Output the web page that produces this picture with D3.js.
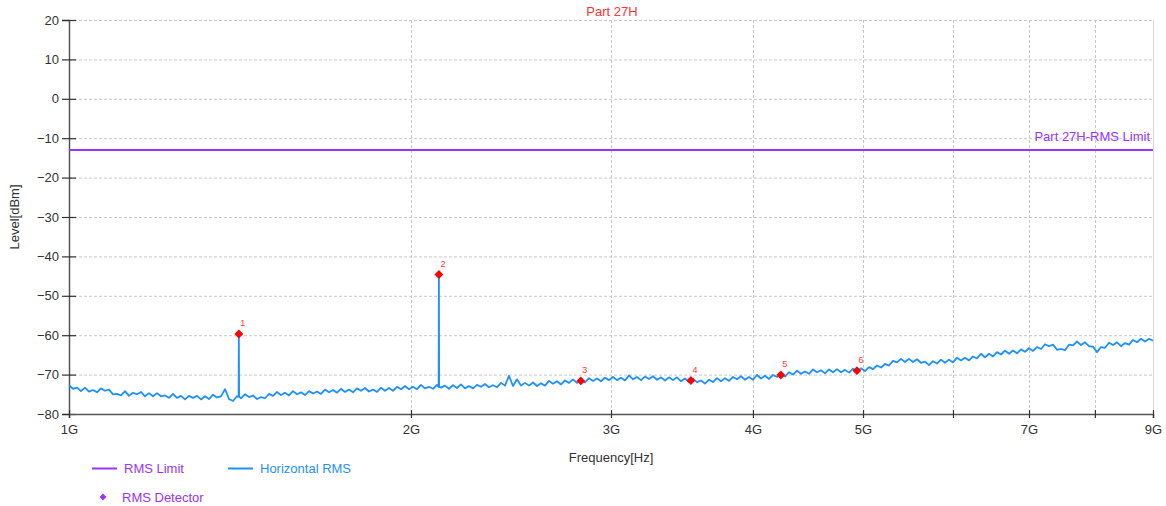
<!DOCTYPE html>
<html>
<head>
<meta charset="utf-8">
<script src="https://cdn.jsdelivr.net/npm/d3@7"></script>
<style>
  html, body { margin: 0; padding: 0; background: #fff; }
  svg text { font-family: Arial, "Liberation Sans", sans-serif; }
</style>
</head>
<body>
<svg id="chart" width="1166" height="506"></svg>
<script>
// ---------------- data ----------------
const chartTitle = "Part 27H";
const limitLabel = "Part 27H-RMS Limit";
const limitLevel = -13;                       // dBm
const yTickValues = [-80, -70, -60, -50, -40, -30, -20, -10, 0, 10, 20];
const xTickValuesGHz = [1, 2, 3, 4, 5, 6, 7, 8, 9];
const xTickLabels = ["1G", "2G", "3G", "4G", "5G", "", "7G", "", "9G"];

// sweep (log-spaced sweep points between start and stop)
const sweepStartGHz = 1;
const sweepStopGHz = 9;
const traceLevels = [
  -72.7,-73.6,-73.3,-74.2,-73.3,-74.3,-73.9,-74.5,-73.5,-74.1,
  -73.8,-75.0,-74.9,-75.3,-74.2,-75.4,-74.6,-75.0,-74.4,-75.5,
  -74.7,-75.5,-74.7,-75.5,-75.3,-75.9,-74.9,-75.9,-75.4,-76.3,
  -75.4,-75.9,-75.4,-76.3,-75.5,-76.2,-75.1,-75.8,-75.5,-73.7,
  -76.2,-76.7,-75.5,-76.0,-75.0,-75.7,-75.3,-76.2,-75.7,-76.0,
  -74.9,-75.4,-74.4,-75.2,-74.6,-75.3,-74.2,-75.0,-74.5,-75.2,
  -74.2,-74.8,-74.3,-74.9,-73.8,-74.5,-73.9,-74.6,-73.6,-74.4,
  -73.8,-74.5,-73.5,-74.1,-73.4,-74.3,-73.8,-74.4,-73.3,-74.1,
  -73.4,-74.1,-73.1,-73.7,-72.9,-73.7,-73.1,-73.7,-72.6,-73.5,
  -73.1,-73.6,-72.6,-73.3,-72.8,-73.6,-72.7,-73.4,-72.5,-73.5,
  -72.9,-73.5,-72.6,-73.1,-72.4,-73.2,-72.7,-73.2,-72.1,-72.8,
  -70.3,-72.9,-71.2,-72.8,-72.1,-72.8,-72.0,-72.9,-72.2,-72.8,
  -71.6,-72.3,-71.7,-72.5,-71.5,-72.1,-71.2,-72.1,-71.4,-72.0,
  -70.9,-71.6,-71.0,-71.7,-70.8,-71.4,-70.6,-71.4,-70.8,-71.5,
  -70.2,-71.2,-70.6,-71.4,-70.5,-71.1,-70.4,-71.3,-70.7,-71.5,
  -70.7,-71.4,-70.7,-71.7,-71.0,-71.9,-71.1,-71.9,-71.5,-72.3,
  -71.3,-71.9,-70.9,-71.7,-70.9,-71.6,-70.6,-71.2,-70.4,-71.3,
  -70.6,-71.3,-70.1,-71.0,-70.3,-71.1,-70.1,-70.6,-69.9,-70.5,
  -69.4,-70.0,-69.0,-69.8,-69.2,-69.8,-68.7,-69.4,-68.9,-69.7,
  -68.7,-69.4,-68.6,-69.4,-68.8,-69.5,-68.5,-69.2,-68.4,-69.1,
  -68.1,-68.6,-67.7,-68.2,-67.3,-67.7,-66.5,-66.9,-66.0,-66.8,
  -66.0,-66.8,-66.1,-67.0,-66.7,-67.6,-66.6,-67.2,-66.2,-67.0,
  -66.2,-66.9,-65.7,-66.4,-65.7,-66.4,-65.4,-65.9,-64.7,-65.6,
  -64.7,-65.4,-64.3,-64.9,-63.9,-64.7,-63.9,-64.6,-63.6,-64.2,
  -63.3,-64.0,-63.0,-63.5,-62.3,-62.8,-62.4,-63.7,-63.5,-63.8,
  -62.4,-62.6,-61.6,-62.5,-61.8,-62.8,-62.9,-64.3,-63.0,-63.2,
  -61.9,-62.5,-61.8,-62.8,-62.0,-62.4,-61.2,-61.8,-60.9,-61.6,
  -60.9,-61.4
];

// narrow emission spikes in the trace
const spikeFreqsGHz = [1.4110, 2.1165];
const spikePeakLevels = [-59.7, -44.6];
const spikeBaseLevels = [-75.6, -73.1];

// RMS detector markers
const markerIds = ["1", "2", "3", "4", "5", "6"];
const markerFreqsGHz = [1.4110, 2.1165, 2.8220, 3.5275, 4.2330, 4.9385];
const markerLevels = [-59.7, -44.6, -71.6, -71.5, -70.1, -69.0];

const legendLabels = ["RMS Limit", "Horizontal RMS", "RMS Detector"];

// ---------------- styles ----------------
const colLimit = "#9933ff";
const colTrace = "#1e90ff";
const colMarker = "#ff0000";
const colTitle = "#ff3333";
const colAxis = "#555555";
const colGrid = "#c8c8c8";
const colText = "#333333";

// ---------------- chart ----------------
const svg = d3.select("#chart");
const pLeft = 69, pRight = 1153, pTop = 20, pBottom = 414;
const G = 1e9;

const x = d3.scaleLog().domain([sweepStartGHz * G, sweepStopGHz * G]).range([pLeft, pRight]);
const y = d3.scaleLinear().domain([-80, 20]).range([pBottom, pTop]);

// grid
const grid = svg.append("g");
grid.selectAll("line.h").data(yTickValues.filter(v => v > -80)).join("line")
  .attr("x1", pLeft).attr("x2", pRight)
  .attr("y1", d => y(d) + 0.5).attr("y2", d => y(d) + 0.5)
  .attr("stroke", colGrid).attr("stroke-width", 1).attr("stroke-dasharray", "3,2");
grid.selectAll("line.v").data(xTickValuesGHz.filter(v => v > 1 && v < 9)).join("line")
  .attr("x1", d => Math.round(x(d * G)) + 0.5).attr("x2", d => Math.round(x(d * G)) + 0.5)
  .attr("y1", pTop).attr("y2", pBottom)
  .attr("stroke", colGrid).attr("stroke-width", 1).attr("stroke-dasharray", "3,2");
grid.append("line")
  .attr("x1", pRight + 0.5).attr("x2", pRight + 0.5).attr("y1", pTop).attr("y2", pBottom)
  .attr("stroke", "#d8d8d8").attr("stroke-width", 1);

// axes
const yAxis = d3.axisLeft(y).tickValues(yTickValues).tickSize(7).tickPadding(3)
  .tickFormat(d3.format("d"));
const gy = svg.append("g").attr("transform", `translate(${pLeft},0)`).call(yAxis);
gy.select(".domain").attr("stroke", colAxis).attr("stroke-width", 1.5);
gy.selectAll(".tick line").attr("stroke", "#333").attr("x2", -7).attr("x1", 7).attr("stroke-width", 1.2);
gy.selectAll(".tick text").attr("fill", colText).attr("font-size", 13)
  .attr("font-family", "Arial, 'Liberation Sans', sans-serif");

const xAxis = d3.axisBottom(x).tickValues(xTickValuesGHz.map(v => v * G)).tickSize(4).tickPadding(7)
  .tickFormat((d, i) => xTickLabels[i]);
const gx = svg.append("g").attr("transform", `translate(0,${pBottom})`).call(xAxis);
gx.select(".domain").attr("stroke", colAxis).attr("stroke-width", 1.5);
gx.selectAll(".tick line").attr("stroke", "#333").attr("y1", -4).attr("y2", 4).attr("stroke-width", 1.2);
gx.selectAll(".tick text").attr("fill", colText).attr("font-size", 13)
  .attr("font-family", "Arial, 'Liberation Sans', sans-serif");

// axis titles
svg.append("text").attr("x", (pLeft + pRight) / 2).attr("y", 462)
  .attr("text-anchor", "middle").attr("font-size", 13).attr("fill", colText).text("Frequency[Hz]");
svg.append("text").attr("transform", `translate(19,${(pTop + pBottom) / 2}) rotate(-90)`)
  .attr("text-anchor", "middle").attr("font-size", 13).attr("fill", colText).text("Level[dBm]");

// title
svg.append("text").attr("x", 612).attr("y", 16).attr("text-anchor", "middle")
  .attr("font-size", 13).attr("fill", colTitle).text(chartTitle);

// limit line
svg.append("line").attr("x1", pLeft).attr("x2", pRight)
  .attr("y1", y(limitLevel)).attr("y2", y(limitLevel))
  .attr("stroke", colLimit).attr("stroke-width", 2);
svg.append("text").attr("x", pRight - 3).attr("y", y(limitLevel) - 9).attr("text-anchor", "end")
  .attr("font-size", 13).attr("fill", colLimit).text(limitLabel);

// trace
const n = traceLevels.length;
let tracePts = traceLevels.map((v, i) => [
  sweepStartGHz * Math.pow(sweepStopGHz / sweepStartGHz, i / (n - 1)) * G, v]);
spikeFreqsGHz.forEach((f, k) => {
  tracePts.push([f * G * 0.9995, spikeBaseLevels[k]]);
  tracePts.push([f * G, spikePeakLevels[k]]);
  tracePts.push([f * G * 1.0005, spikeBaseLevels[k]]);
});
tracePts.sort((a, b) => a[0] - b[0]);

const line = d3.line().x(d => x(d[0])).y(d => y(d[1]));
svg.append("path").datum(tracePts).attr("d", line)
  .attr("fill", "none").attr("stroke", colTrace).attr("stroke-width", 1.8)
  .attr("stroke-linejoin", "round");

// markers
const diamond = d3.symbol().type(d3.symbolDiamond2).size(50);
const markers = markerIds.map((id, i) => ({ id, f: markerFreqsGHz[i] * G, v: markerLevels[i] }));
svg.selectAll("path.marker").data(markers).join("path")
  .attr("class", "marker")
  .attr("transform", d => `translate(${x(d.f)},${y(d.v)})`)
  .attr("d", diamond).attr("fill", colMarker);
svg.selectAll("text.mlabel").data(markers).join("text")
  .attr("class", "mlabel")
  .attr("x", d => x(d.f) + 4).attr("y", d => y(d.v) - 8)
  .attr("text-anchor", "middle").attr("font-size", 9).attr("fill", "#ff3333")
  .text(d => d.id);

// legend
const lg = svg.append("g");
lg.append("line").attr("x1", 92).attr("x2", 117).attr("y1", 468.5).attr("y2", 468.5)
  .attr("stroke", colLimit).attr("stroke-width", 2);
lg.append("text").attr("x", 124).attr("y", 473).attr("font-size", 13).attr("fill", colLimit)
  .text(legendLabels[0]);
lg.append("line").attr("x1", 228).attr("x2", 253).attr("y1", 468.5).attr("y2", 468.5)
  .attr("stroke", colTrace).attr("stroke-width", 2);
lg.append("text").attr("x", 260).attr("y", 473).attr("font-size", 13).attr("fill", colTrace)
  .text(legendLabels[1]);
lg.append("path").attr("transform", "translate(103,497)")
  .attr("d", d3.symbol().type(d3.symbolDiamond2).size(30)).attr("fill", colLimit);
lg.append("text").attr("x", 122).attr("y", 501.5).attr("font-size", 13).attr("fill", colLimit)
  .text(legendLabels[2]);
</script>
</body>
</html>
